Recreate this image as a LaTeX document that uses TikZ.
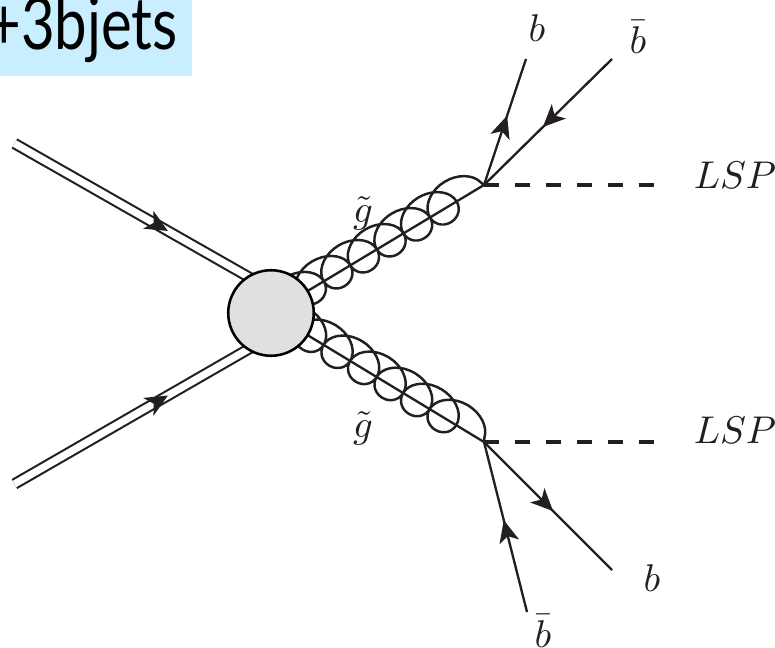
\documentclass[tikz,border=0pt]{standalone}
\usepackage{fontspec}
\setmainfont{Lato}
\usepackage{tikz}
\usetikzlibrary{arrows.meta, backgrounds, decorations.markings, decorations.pathmorphing}
\definecolor{banner}{HTML}{C8EEFF}
\definecolor{blobfill}{HTML}{E0E0E0}
\definecolor{ink}{HTML}{231F20}
\tikzset{
  leg/.style={draw=ink, line width=2pt},
  fline/.style={leg, postaction={decorate}, decoration={markings,
      mark=at position #1 with {\arrow[ink]{Stealth[length=19pt, width=17pt, inset=5pt]}}}},
  dline/.style={draw=ink, line width=1.8pt, double=white, double distance=6.2pt, shorten >=-6pt},
  gluon/.style={draw=ink, line width=2.1pt, decorate,
      decoration={coil, aspect=1.2, segment length=26.46pt, amplitude=16.2pt, raise=3.5pt}},
  lsp/.style={draw=ink, line width=3.4pt, dash pattern=on 13pt off 13.4pt},
  blob/.style={circle, draw=black, line width=2.2pt, fill=blobfill, minimum size=73pt, inner sep=0pt},
  lab/.style={inner sep=0pt, text=ink, scale=3.3},
}

\begin{document}
\begin{tikzpicture}[x=0.03cm, y=-0.03cm]
  \useasboundingbox (0,0) rectangle (775,648);

  % ---- title banner ----
  \fill[banner] (0,0) rectangle (192,76);
  \node[anchor=base east, inner sep=0pt, xscale=0.8, font=\fontsize{62}{66}\selectfont] (title) at (178,50) {+3bjets};

  % ---- blob and vertices ----
  \node[blob] (hard) at (271,313) {};
  \coordinate (topv) at (484,185);
  \coordinate (botv) at (484,442);

  % ---- incoming protons ----
  \coordinate (p1) at (14.5,143.5);
  \coordinate (p2) at (14.5,484);
  \begin{scope}[on background layer]
    \draw[dline, postaction={decorate}, decoration={markings,
      mark=at position 0.66 with {\arrow[ink]{Stealth[length=19pt, width=17pt, inset=5pt]}}}] (p1) -- (hard.123);
    \draw[dline, postaction={decorate}, decoration={markings,
      mark=at position 0.66 with {\arrow[ink]{Stealth[length=19pt, width=17pt, inset=5pt]}}}] (p2) -- (hard.-123);
    \draw[leg] (hard.center) -- (topv);
    \draw[leg] (hard.center) -- (botv);
  \end{scope}

  % ---- gluinos ----
  \begin{scope}[on background layer]
    \draw[gluon] (hard.center) -- (topv);
    \draw[gluon] (hard.center) -- (botv);
  \end{scope}
  \node[lab] (g1lab) at (363,213) {$\tilde{g}$};
  \node[lab] (g2lab) at (363,428) {$\tilde{g}$};

  % ---- top decay ----
  \node[lab] (b1) at (537,28) {$b$};
  \node[lab] (bb1) at (638,37) {$\bar{b}$};
  \node[lab] (lsp1) at (735,175) {$LSP$};
  \coordinate (b1end) at (526,59);
  \coordinate (bb1end) at (612,59);
  \coordinate (lsp1end) at (655,185);
  \draw[fline=0.55] (topv) -- (b1end);
  \draw[fline=0.54] (bb1end) -- (topv);
  \draw[lsp] (topv) -- (lsp1end);

  % ---- bottom decay ----
  \node[lab] (b2) at (652,578) {$b$};
  \node[lab] (bb2) at (543,631) {$\bar{b}$};
  \node[lab] (lsp2) at (735,430) {$LSP$};
  \coordinate (b2end) at (612,570);
  \coordinate (bb2end) at (527,612);
  \coordinate (lsp2end) at (655,442);
  \draw[fline=0.54] (botv) -- (b2end);
  \draw[fline=0.54] (bb2end) -- (botv);
  \draw[lsp] (botv) -- (lsp2end);
\end{tikzpicture}
\end{document}
